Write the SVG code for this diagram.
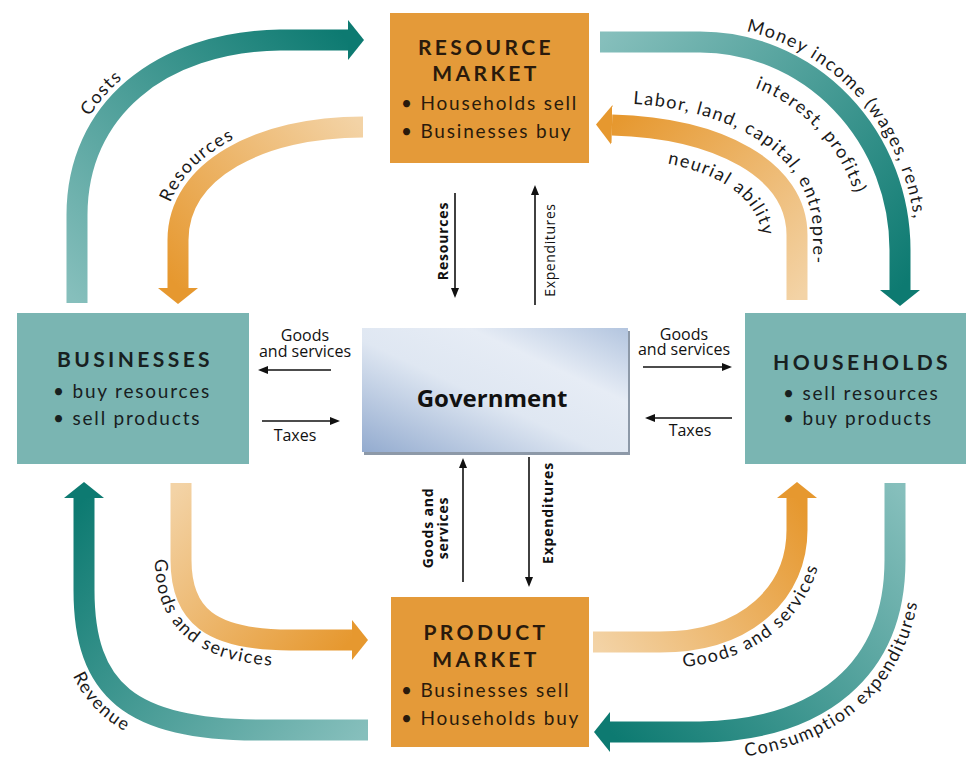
<svg xmlns="http://www.w3.org/2000/svg" width="966" height="763" viewBox="0 0 966 763">
<style>
.arrow{fill:none;stroke-width:21;stroke-linecap:butt}
.thin{fill:none;stroke:#111;stroke-width:1.6}
.bt{font-family:Lato,'Open Sans',sans-serif;font-weight:700;font-size:21px;letter-spacing:3.4px;text-anchor:middle;fill:#2a1a0c}
.bl{font-family:Lato,'Open Sans',sans-serif;font-size:19px;letter-spacing:1.8px;fill:#2a1a0c}
.cl{font-family:Lato,'Open Sans',sans-serif;font-size:18px;letter-spacing:1.5px;fill:#1a1a1a}
.sl{font-family:'Open Sans',sans-serif;font-size:16px;fill:#111;text-anchor:middle}
.vl{font-family:'Open Sans',sans-serif;font-size:14px;fill:#111;text-anchor:middle}
.vb{font-family:'Open Sans',sans-serif;font-size:14px;font-weight:700;fill:#111;text-anchor:middle;letter-spacing:0.8px}
.gov{font-family:'Open Sans',sans-serif;font-size:24px;font-weight:700;fill:#111;text-anchor:middle}
</style>
<defs>
<linearGradient id="gTL" gradientUnits="userSpaceOnUse" x1="77" y1="303" x2="348" y2="40"><stop offset="0" stop-color="#86bfbc"/><stop offset="1" stop-color="#0d7a71"/></linearGradient>
<linearGradient id="gTR" gradientUnits="userSpaceOnUse" x1="600" y1="42" x2="900" y2="290"><stop offset="0" stop-color="#86bfbc"/><stop offset="1" stop-color="#0d7a71"/></linearGradient>
<linearGradient id="gBL" gradientUnits="userSpaceOnUse" x1="368" y1="730" x2="84" y2="498"><stop offset="0" stop-color="#86bfbc"/><stop offset="1" stop-color="#0d7a71"/></linearGradient>
<linearGradient id="gBR" gradientUnits="userSpaceOnUse" x1="895" y1="483" x2="610" y2="732"><stop offset="0" stop-color="#86bfbc"/><stop offset="1" stop-color="#0d7a71"/></linearGradient>
<linearGradient id="oTL" gradientUnits="userSpaceOnUse" x1="363" y1="127" x2="178" y2="288"><stop offset="0" stop-color="#f3d3a6"/><stop offset="1" stop-color="#e6982f"/></linearGradient>
<linearGradient id="oTR" gradientUnits="userSpaceOnUse" x1="797" y1="300" x2="612" y2="125"><stop offset="0" stop-color="#f3d3a6"/><stop offset="1" stop-color="#e6982f"/></linearGradient>
<linearGradient id="oBL" gradientUnits="userSpaceOnUse" x1="181" y1="483" x2="352" y2="640"><stop offset="0" stop-color="#f3d3a6"/><stop offset="1" stop-color="#e6982f"/></linearGradient>
<linearGradient id="oBR" gradientUnits="userSpaceOnUse" x1="593" y1="642" x2="797" y2="498"><stop offset="0" stop-color="#f3d3a6"/><stop offset="1" stop-color="#e6982f"/></linearGradient>
<linearGradient id="govG" x1="0" y1="1" x2="1" y2="0"><stop offset="0" stop-color="#93abcf"/><stop offset="0.45" stop-color="#dfe7f2"/><stop offset="0.7" stop-color="#e6ecf5"/><stop offset="1" stop-color="#b3c5df"/></linearGradient>
<marker id="hT" markerUnits="userSpaceOnUse" viewBox="0 0 16 40" refX="0" refY="20" markerWidth="16" markerHeight="40" orient="auto"><path d="M0,0 L16,20 L0,40 Z" fill="#0d7a71"/></marker>
<marker id="hO" markerUnits="userSpaceOnUse" viewBox="0 0 16 40" refX="0" refY="20" markerWidth="16" markerHeight="40" orient="auto"><path d="M0,0 L16,20 L0,40 Z" fill="#e6982f"/></marker>
<marker id="hs" markerUnits="userSpaceOnUse" viewBox="0 0 10 8" refX="0" refY="4" markerWidth="10" markerHeight="8" orient="auto"><path d="M0,0 L10,4 L0,8 Z" fill="#111"/></marker>
<path id="pCosts" d="M63,303 L63,215 C63,100 150,28 280,26 L348,26"/>
<path id="pRes" d="M163,288 L163,240 C163,160 252,112 363,112"/>
<path id="pMoney" d="M600,26 L700,26 A216,224 0 0 1 916,250"/>
<path id="pInt" d="M600,78 L700,78 A164,172 0 0 1 864,250"/>
<path id="pLab" d="M612,103 C725,105 813,150 813,235 L813,300"/>
<path id="pNeu" d="M612,158 C700,160 763,190 763,245 L763,300"/>
<path id="pRev" d="M57,498 L57,590 C57,710 120,757 260,757 L368,757"/>
<path id="pGBL" d="M155,483 L155,560 C155,630 200,666 290,666 L352,666"/>
<path id="pGBR" d="M593,668 L660,668 C765,668 823,605 823,530 L823,498"/>
<path id="pCon" d="M610,760 L700,760 C830,758 921,690 921,560 L921,483"/>
</defs>

<g id="connectors">
<path class="arrow" stroke="url(#gTL)" d="M77,303 L77,215 C77,110 160,42 280,40 L348,40" marker-end="url(#hT)"/>
<path class="arrow" stroke="url(#oTL)" d="M363,127 C260,127 178,170 178,240 L178,288" marker-end="url(#hO)"/>
<path class="arrow" stroke="url(#gTR)" d="M600,42 L700,42 A200,208 0 0 1 900,250 L900,290" marker-end="url(#hT)"/>
<path class="arrow" stroke="url(#oTR)" d="M797,300 L797,235 C797,170 720,128 612,125" marker-end="url(#hO)"/>
<path class="arrow" stroke="url(#gBL)" d="M368,730 L260,730 C130,730 84,690 84,590 L84,498" marker-end="url(#hT)"/>
<path class="arrow" stroke="url(#oBL)" d="M181,483 L181,560 C181,615 210,640 290,640 L352,640" marker-end="url(#hO)"/>
<path class="arrow" stroke="url(#oBR)" d="M593,642 L660,642 C750,642 797,590 797,530 L797,498" marker-end="url(#hO)"/>
<path class="arrow" stroke="url(#gBR)" d="M895,483 L895,560 C895,670 820,730 700,732 L610,732" marker-end="url(#hT)"/>

<text class="cl"><textPath href="#pCosts" startOffset="217" text-anchor="middle">Costs</textPath></text>
<text class="cl"><textPath href="#pRes" startOffset="133" text-anchor="middle">Resources</textPath></text>
<text class="cl"><textPath href="#pMoney" startOffset="281" text-anchor="middle">Money income (wages, rents,</textPath></text>
<text class="cl"><textPath href="#pInt" startOffset="232" text-anchor="middle">interest, profits)</textPath></text>
<text class="cl"><textPath href="#pLab" startOffset="159" text-anchor="middle">Labor, land, capital, entrepre-</textPath></text>
<text class="cl"><textPath href="#pNeu" startOffset="120" text-anchor="middle">neurial ability</textPath></text>
<text class="cl"><textPath href="#pRev" startOffset="219" text-anchor="middle">Revenue</textPath></text>
<text class="cl" letter-spacing="2.6"><textPath href="#pGBL" startOffset="166" text-anchor="middle">Goods and services</textPath></text>
<text class="cl" letter-spacing="2.3"><textPath href="#pGBR" startOffset="180" text-anchor="middle">Goods and services</textPath></text>
<text class="cl" letter-spacing="2.2"><textPath href="#pCon" startOffset="260" text-anchor="middle">Consumption expenditures</textPath></text>

<line class="thin" x1="455" y1="193" x2="455" y2="288" marker-end="url(#hs)"/>
<line class="thin" x1="535" y1="305" x2="535" y2="195" marker-end="url(#hs)"/>
<line class="thin" x1="331" y1="370" x2="268" y2="370" marker-end="url(#hs)"/>
<line class="thin" x1="262" y1="421" x2="330" y2="421" marker-end="url(#hs)"/>
<line class="thin" x1="643" y1="367" x2="722" y2="367" marker-end="url(#hs)"/>
<line class="thin" x1="732" y1="418" x2="655" y2="418" marker-end="url(#hs)"/>
<line class="thin" x1="463" y1="582" x2="463" y2="468" marker-end="url(#hs)"/>
<line class="thin" x1="529" y1="457" x2="529" y2="577" marker-end="url(#hs)"/>

<text class="vb" transform="translate(448,241) rotate(-90)">Resources</text>
<text class="vl" transform="translate(555,250) rotate(-90)" letter-spacing="0.6">Expenditures</text>
<text class="sl" x="305" y="341">Goods</text>
<text class="sl" x="305" y="357">and services</text>
<text class="sl" x="295" y="441">Taxes</text>
<text class="sl" x="684" y="340">Goods</text>
<text class="sl" x="684" y="355">and services</text>
<text class="sl" x="690" y="436">Taxes</text>
<text class="vb" transform="translate(433,528) rotate(-90)">Goods and</text>
<text class="vb" transform="translate(448,528) rotate(-90)">services</text>
<text class="vb" transform="translate(553,513) rotate(-90)" letter-spacing="1.4">Expenditures</text>
</g>

<g id="resource-market">
<rect x="390" y="13" width="199" height="150" fill="#e49a39"/>
<text class="bt" x="486" y="55">RESOURCE</text>
<text class="bt" x="486" y="81">MARKET</text>
<text class="bl" x="401" y="110">• Households sell</text>
<text class="bl" x="401" y="138">• Businesses buy</text>
</g>

<g id="product-market">
<rect x="391" y="597" width="198" height="150" fill="#e49a39"/>
<text class="bt" x="486" y="640">PRODUCT</text>
<text class="bt" x="486" y="667">MARKET</text>
<text class="bl" x="401" y="697">• Businesses sell</text>
<text class="bl" x="401" y="725">• Households buy</text>
</g>

<g id="businesses">
<rect x="17" y="313" width="232" height="151" fill="#7ab5b2"/>
<text class="bt" x="135" y="367" style="fill:#18201f">BUSINESSES</text>
<text class="bl" x="53" y="398" style="fill:#18201f">• buy resources</text>
<text class="bl" x="53" y="425" style="fill:#18201f">• sell products</text>
</g>

<g id="households">
<rect x="745" y="313" width="221" height="151" fill="#7ab5b2"/>
<text class="bt" x="862" y="370" style="fill:#18201f">HOUSEHOLDS</text>
<text class="bl" x="783" y="400" style="fill:#18201f">• sell resources</text>
<text class="bl" x="783" y="425" style="fill:#18201f">• buy products</text>
</g>

<g id="government">
<rect x="364" y="331" width="266" height="124" fill="#8d99a8"/>
<rect x="362" y="328" width="266" height="124" fill="url(#govG)"/>
<text class="gov" x="492" y="407">Government</text>
</g>
</svg>
